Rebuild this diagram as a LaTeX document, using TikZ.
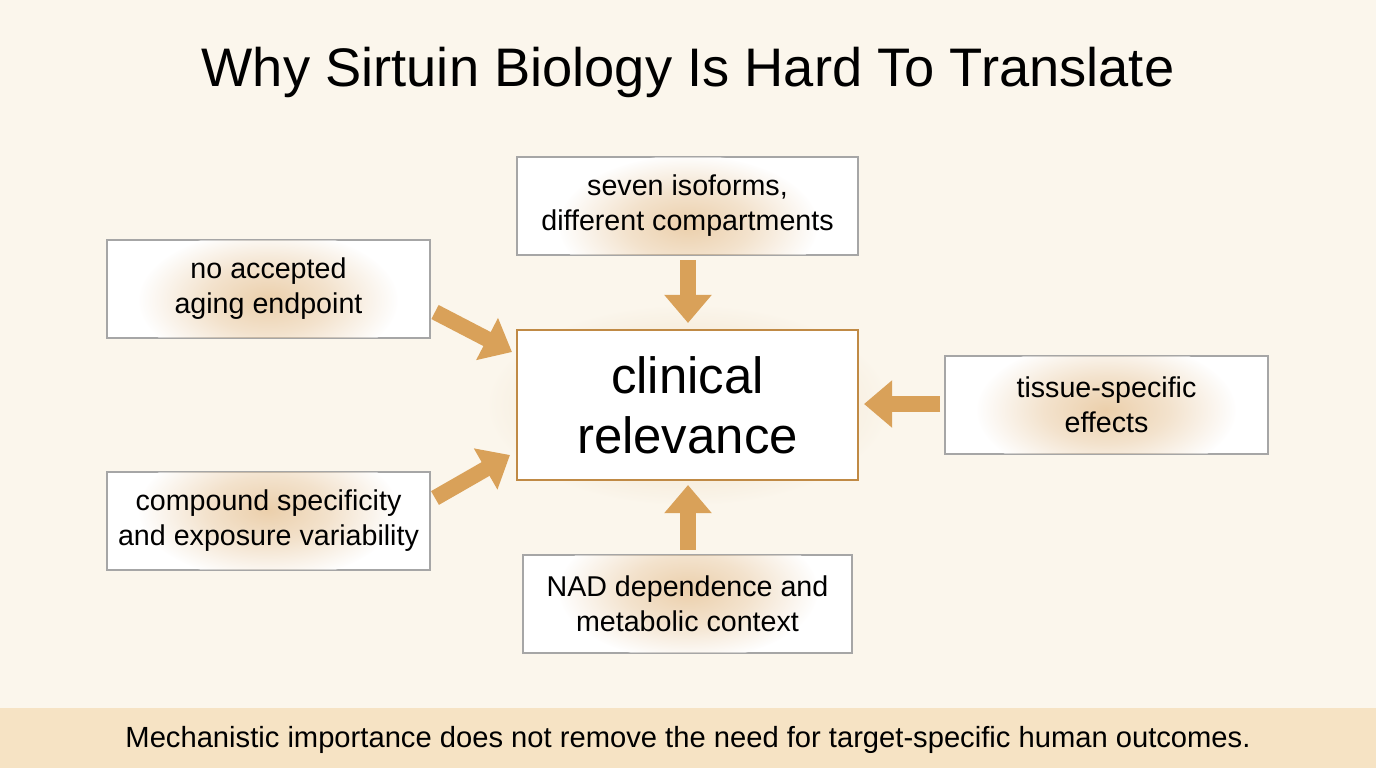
\documentclass[tikz,border=0pt]{standalone}
\usepackage{fontspec}
\setmainfont{Liberation Sans}
\usetikzlibrary{arrows.meta}
\definecolor{bg}{HTML}{FBF6EC}
\definecolor{band}{HTML}{F6E3C4}
\definecolor{arr}{HTML}{D9A159}
\definecolor{edge}{HTML}{C08A45}
\pgfdeclareradialshading{softglow}{\pgfpoint{0bp}{0bp}}{color(0bp)=(arr);color(12bp)=(arr!60!white);color(25bp)=(white);color(50bp)=(white)}
\begin{document}
\begin{tikzpicture}[x=0.02cm,y=-0.02cm,
  box/.style={draw=gray!70,fill=white,line width=0.6pt,inner sep=0pt},
  txt/.style={align=center,font=\fontsize{16.3}{20}\selectfont},
  glow/.style={shading=softglow,draw=none,opacity=0.5},
  flow/.style={draw=arr,line width=9pt,-{Triangle[length=16pt,width=26pt]}}]
\useasboundingbox (0,0) rectangle (1376,768);
\fill[bg] (0,0) rectangle (1376,768);
\fill[band] (0,708) rectangle (1376,768);
\node (title) at (688,72) {\fontsize{30.9}{36}\selectfont Why Sirtuin Biology Is Hard To Translate};
\node (foot) at (688,740) {\fontsize{16.6}{20}\selectfont Mechanistic importance does not remove the need for target-specific human outcomes.};
% boxes
\node[box,minimum width=341*0.02cm,minimum height=98*0.02cm] (top) at (687.5,206) {};
\node[box,minimum width=323*0.02cm,minimum height=98*0.02cm] (l1) at (268.5,289) {};
\node[box,minimum width=323*0.02cm,minimum height=98*0.02cm] (l2) at (268.5,521) {};
\node[box,minimum width=323*0.02cm,minimum height=98*0.02cm] (r) at (1106.5,405) {};
\node[box,minimum width=329*0.02cm,minimum height=98*0.02cm] (b) at (687.5,604) {};
\shade[shading=radial,inner color=arr,outer color=bg,opacity=0.35] (688,405) ellipse (200 and 100);
\node[box,draw=edge,line width=1pt,minimum width=341*0.02cm,minimum height=150*0.02cm] (c) at (687.5,405) {};
% glows
\foreach \n/\p in {top/{(688,225)},l1/{(268,300)},l2/{(268,510)},r/{(1106,410)},b/{(688,590)}}{
  \begin{scope}
  \clip (\n.south west) rectangle (\n.north east);
  \shade[glow] \p ellipse (130 and 70);
  \end{scope}
  \draw[gray!70,line width=0.6pt] (\n.south west) rectangle (\n.north east);
}
% texts
\node[txt] at (top) {seven isoforms,\\different compartments};
\node[txt] at (l1) {no accepted\\aging endpoint};
\node[txt] at (l2) {compound specificity\\and exposure variability};
\node[txt] at (r) {tissue-specific\\effects};
\node[txt] at (b) {NAD dependence and\\metabolic context};
\node[align=center,font=\fontsize{29}{34}\selectfont] at (c) {clinical\\relevance};
% arrows
\coordinate (t0) at (688,260); \coordinate (t1) at (688,323);
\coordinate (a0) at (435,312); \coordinate (a1) at (512,352);
\coordinate (c0) at (435,498); \coordinate (c1) at (510,455);
\coordinate (d0) at (940,404); \coordinate (d1) at (864,404);
\coordinate (e0) at (688,550); \coordinate (e1) at (688,485);
\draw[flow] (t0) -- (t1);
\draw[flow] (a0) -- (a1);
\draw[flow] (c0) -- (c1);
\draw[flow] (d0) -- (d1);
\draw[flow] (e0) -- (e1);
\end{tikzpicture}
\end{document}
